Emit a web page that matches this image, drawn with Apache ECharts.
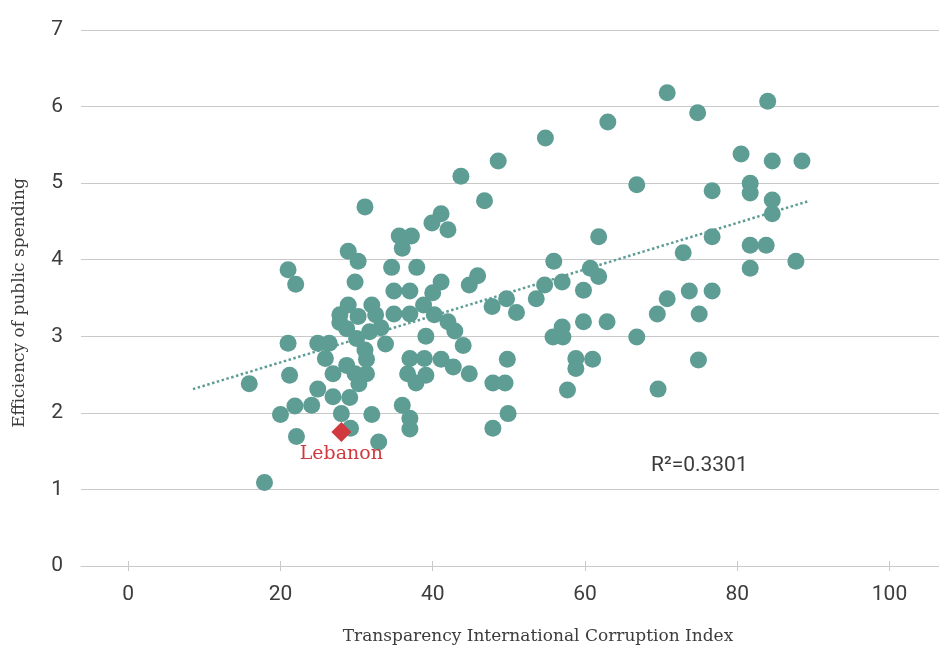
<!DOCTYPE html>
<html>
<head>
<meta charset="utf-8">
<script src="https://cdn.jsdelivr.net/npm/echarts@6/dist/echarts.min.js"></script>
<style>
  html, body { margin: 0; padding: 0; background: #ffffff; }
  #chart { width: 939px; height: 647px; }
</style>
</head>
<body>
<div id="chart"></div>
<script>
// Corruption perception score (x) against efficiency of public spending (y), one point per country
const corruptionIndex = [
  70.8, 84.0, 74.8, 63.0, 54.8, 80.5, 84.6, 88.5, 48.6, 43.7,
  66.8, 81.7, 76.7, 81.7, 46.8, 84.6, 84.6, 31.1, 41.1, 39.9,
  42.0, 35.6, 37.2, 36.0, 61.8, 76.7, 28.9, 30.2, 81.7, 83.8,
  72.9, 55.9, 87.7, 81.7, 21.0, 22.0, 34.6, 37.9, 60.7, 61.8,
  45.9, 41.1, 29.8, 44.8, 54.7, 57.0, 73.7, 76.7, 34.9, 37.0,
  40.0, 59.8, 53.6, 49.7, 70.8, 47.8, 28.9, 32.0, 38.8, 51.0,
  40.2, 34.9, 37.0, 27.8, 32.5, 30.2, 69.5, 75.0, 27.8, 42.0,
  59.8, 62.9, 33.2, 57.0, 28.7, 31.7, 42.9, 39.1, 55.8, 57.1,
  66.8, 30.0, 21.0, 24.9, 26.4, 33.8, 44.0, 31.1, 25.9, 37.0,
  38.9, 41.1, 49.8, 58.8, 61.0, 74.9, 31.3, 42.7, 28.7, 58.8,
  21.2, 26.9, 31.3, 36.7, 39.1, 44.8, 29.8, 15.9, 24.9, 30.3,
  37.8, 47.9, 49.5, 69.6, 57.7, 26.9, 29.1, 24.1, 21.9, 36.0,
  20.0, 28.0, 32.0, 49.9, 37.0, 29.2, 37.0, 47.9, 22.1, 32.9, 17.9
];
const spendingEfficiency = [
  6.18, 6.07, 5.92, 5.80, 5.59, 5.38, 5.29, 5.29, 5.29, 5.09,
  4.98, 5.00, 4.90, 4.87, 4.77, 4.78, 4.60, 4.69, 4.60, 4.48,
  4.39, 4.31, 4.31, 4.15, 4.30, 4.30, 4.11, 3.98, 4.19, 4.19,
  4.09, 3.98, 3.98, 3.89, 3.87, 3.68, 3.90, 3.90, 3.89, 3.78,
  3.79, 3.71, 3.71, 3.67, 3.67, 3.71, 3.59, 3.59, 3.59, 3.59,
  3.57, 3.60, 3.49, 3.49, 3.49, 3.39, 3.41, 3.41, 3.41, 3.31,
  3.28, 3.29, 3.29, 3.28, 3.28, 3.26, 3.29, 3.29, 3.18, 3.19,
  3.19, 3.19, 3.11, 3.12, 3.10, 3.06, 3.07, 3.00, 2.99, 2.99,
  2.99, 2.97, 2.91, 2.91, 2.91, 2.90, 2.88, 2.82, 2.71, 2.71,
  2.71, 2.70, 2.70, 2.71, 2.70, 2.69, 2.70, 2.60, 2.62, 2.58,
  2.49, 2.51, 2.51, 2.51, 2.49, 2.51, 2.51, 2.38, 2.31, 2.38,
  2.39, 2.39, 2.39, 2.31, 2.30, 2.21, 2.20, 2.10, 2.09, 2.10,
  1.98, 1.99, 1.98, 1.99, 1.93, 1.80, 1.79, 1.80, 1.69, 1.62, 1.09
];

// Highlighted country
const highlightName = 'Lebanon';
const highlightPoint = [28.0, 1.75];

// Linear fit end points
const trendX = [8.5, 89.2];
const trendY = [2.31, 4.76];
const rSquaredText = 'R²=0.3301';

// Axis ticks
const xTicks = [0, 20, 40, 60, 80, 100];
const xTitle = 'Transparency International Corruption Index';
const yTitle = 'Efficiency of public spending';

const TEAL = '#5e9d94';
const RED = '#d03a3f';
const GRID = '#c9c9c9';
const TEXT = '#3c3c3c';
const SERIF = "'DejaVu Serif', 'Liberation Serif', serif";
const SANS = "Roboto, 'Noto Sans', sans-serif";

const points = corruptionIndex.map((x, i) => [x, spendingEfficiency[i]]);
const trend = trendX.map((x, i) => [x, trendY[i]]);

const X_MIN = -6.2, X_MAX = 106.5;

const chart = echarts.init(document.getElementById('chart'), null, { renderer: 'canvas' });

chart.setOption({
  animation: false,
  backgroundColor: '#ffffff',
  grid: { left: 81, right: 0, top: 30, bottom: 81, containLabel: false },
  xAxis: [
    {
      type: 'value', min: X_MIN, max: X_MAX,
      axisLine: { show: true, lineStyle: { color: GRID, width: 1 } },
      axisTick: { show: true, inside: false, length: 5, customValues: xTicks, lineStyle: { color: GRID, width: 1 } },
      axisLabel: { show: true, customValues: xTicks, margin: 18, color: TEXT, fontFamily: SANS, fontSize: 21 },
      splitLine: { show: false }
    },
    {
      type: 'value', min: X_MIN, max: X_MAX, position: 'bottom',
      axisLine: { show: false },
      axisTick: { show: true, inside: true, length: 5, customValues: xTicks, lineStyle: { color: GRID, width: 1 } },
      axisLabel: { show: false },
      splitLine: { show: false }
    }
  ],
  yAxis: {
    type: 'value', min: 0, max: 7, interval: 1,
    axisLine: { show: false },
    axisTick: { show: false },
    axisLabel: { margin: 18, color: TEXT, fontFamily: SANS, fontSize: 21 },
    splitLine: { show: true, lineStyle: { color: GRID, width: 1 } }
  },
  series: [
    {
      type: 'line',
      data: trend,
      symbol: 'none',
      silent: true,
      lineStyle: { color: TEAL, width: 2.5, type: [2.5, 2.5] },
      z: 1
    },
    {
      type: 'scatter',
      data: points,
      symbol: 'circle',
      symbolSize: 17,
      itemStyle: { color: TEAL, opacity: 1 },
      z: 2
    },
    {
      type: 'scatter',
      data: [highlightPoint],
      symbol: 'diamond',
      symbolSize: 20,
      itemStyle: { color: RED, opacity: 1 },
      label: {
        show: true, position: 'bottom', distance: 3,
        formatter: highlightName,
        color: RED, fontFamily: SERIF, fontSize: 19
      },
      z: 3
    }
  ],
  graphic: [
    {
      type: 'text', left: 651, top: 455,
      style: { text: rSquaredText, fill: TEXT, font: '21px ' + SANS }
    },
    {
      type: 'text', x: 538, y: 637,
      style: { text: xTitle, fill: TEXT, font: '17px ' + SERIF, align: 'center', verticalAlign: 'middle' }
    },
    {
      type: 'text', x: 20, y: 303, rotation: Math.PI / 2,
      style: { text: yTitle, fill: TEXT, font: '17px ' + SERIF, align: 'center', verticalAlign: 'middle' }
    }
  ]
});
</script>
</body>
</html>
